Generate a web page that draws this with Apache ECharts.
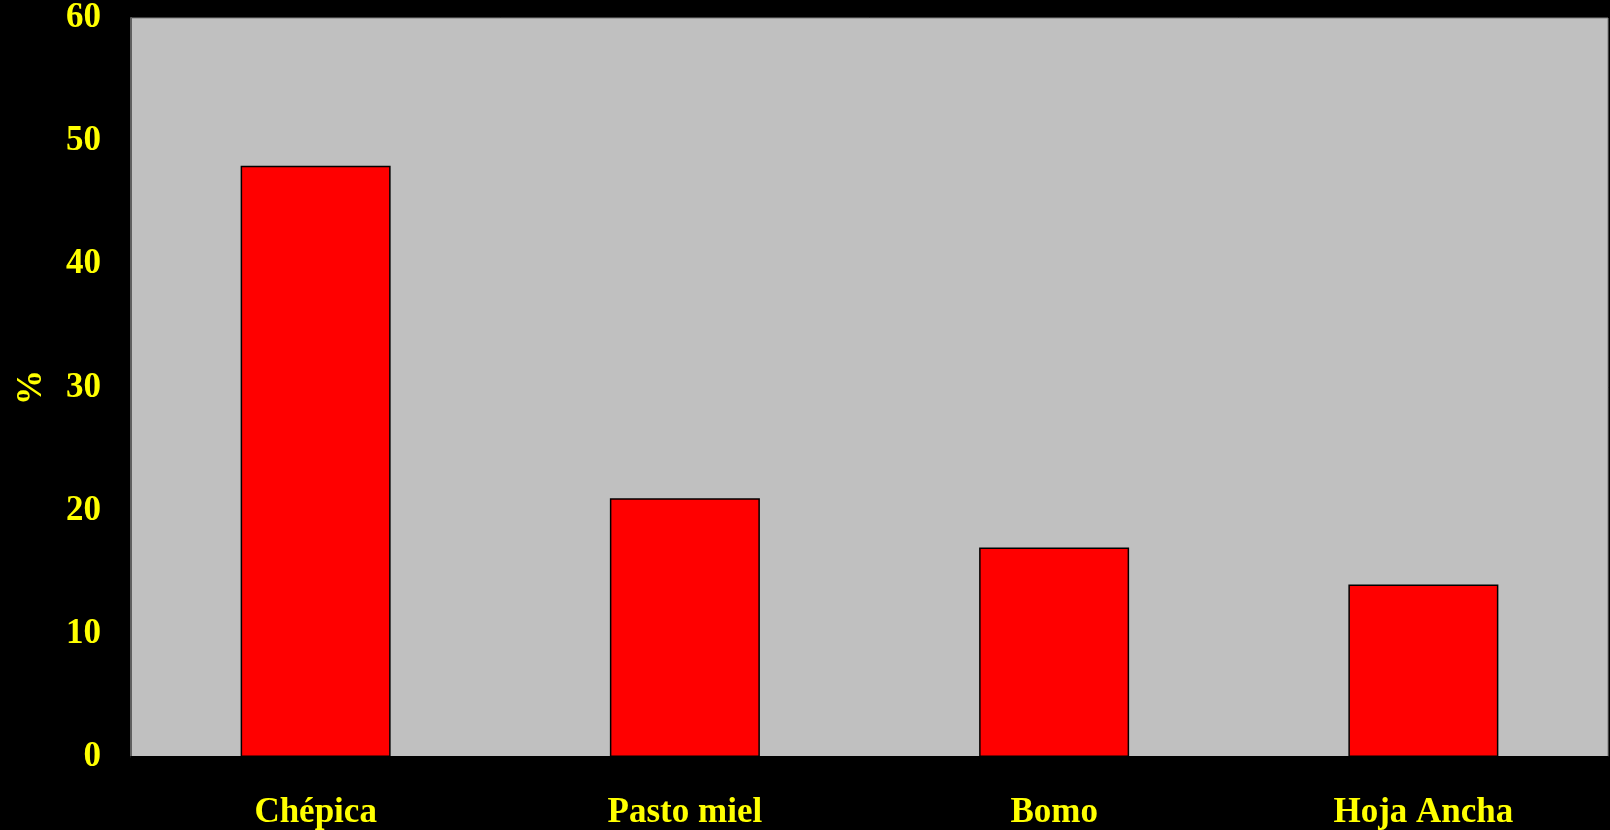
<!DOCTYPE html>
<html>
<head>
<meta charset="utf-8">
<script src="https://cdn.jsdelivr.net/npm/echarts@6/dist/echarts.min.js"></script>
<style>
html,body{margin:0;padding:0;background:#000;}
#chart{width:1610px;height:830px;}
</style>
</head>
<body>
<div id="chart"></div>
<script>
const categories = ["Chépica", "Pasto miel", "Bomo", "Hoja Ancha"];
const values = [48, 21, 17, 14];
const yTicks = [0, 10, 20, 30, 40, 50, 60];

const font = '"Liberation Serif", "Times New Roman", serif';
const chart = echarts.init(document.getElementById('chart'));
chart.setOption({
  backgroundColor: '#000000',
  animation: false,
  grid: {
    left: 131, top: 18, right: 2, bottom: 73,
    show: true, backgroundColor: '#C0C0C0', borderColor: '#808080', borderWidth: 1
  },
  xAxis: {
    type: 'category',
    data: categories,
    axisLine: { show: true, lineStyle: { color: '#000000', width: 2 } },
    axisTick: { show: false },
    axisLabel: { color: '#FFFF00', fontFamily: font, fontWeight: 'bold', fontSize: 35, margin: 38 }
  },
  yAxis: {
    type: 'value',
    min: yTicks[0], max: yTicks[yTicks.length - 1], interval: 10,
    name: '%',
    nameLocation: 'middle',
    nameGap: 82,
    nameRotate: 90,
    nameTextStyle: { color: '#FFFF00', fontFamily: font, fontWeight: 'bold', fontSize: 35 },
    axisLine: { show: true, lineStyle: { color: '#606060', width: 2 } },
    axisTick: { show: false },
    splitLine: { show: false },
    axisLabel: { color: '#FFFF00', fontFamily: font, fontWeight: 'bold', fontSize: 35, margin: 30, padding: [8, 0, 0, 0] }
  },
  series: [{
    type: 'bar',
    data: values,
    barWidth: 150,
    itemStyle: { color: '#FF0000', borderColor: '#000000', borderWidth: 1.5 }
  }]
});
</script>
</body>
</html>
